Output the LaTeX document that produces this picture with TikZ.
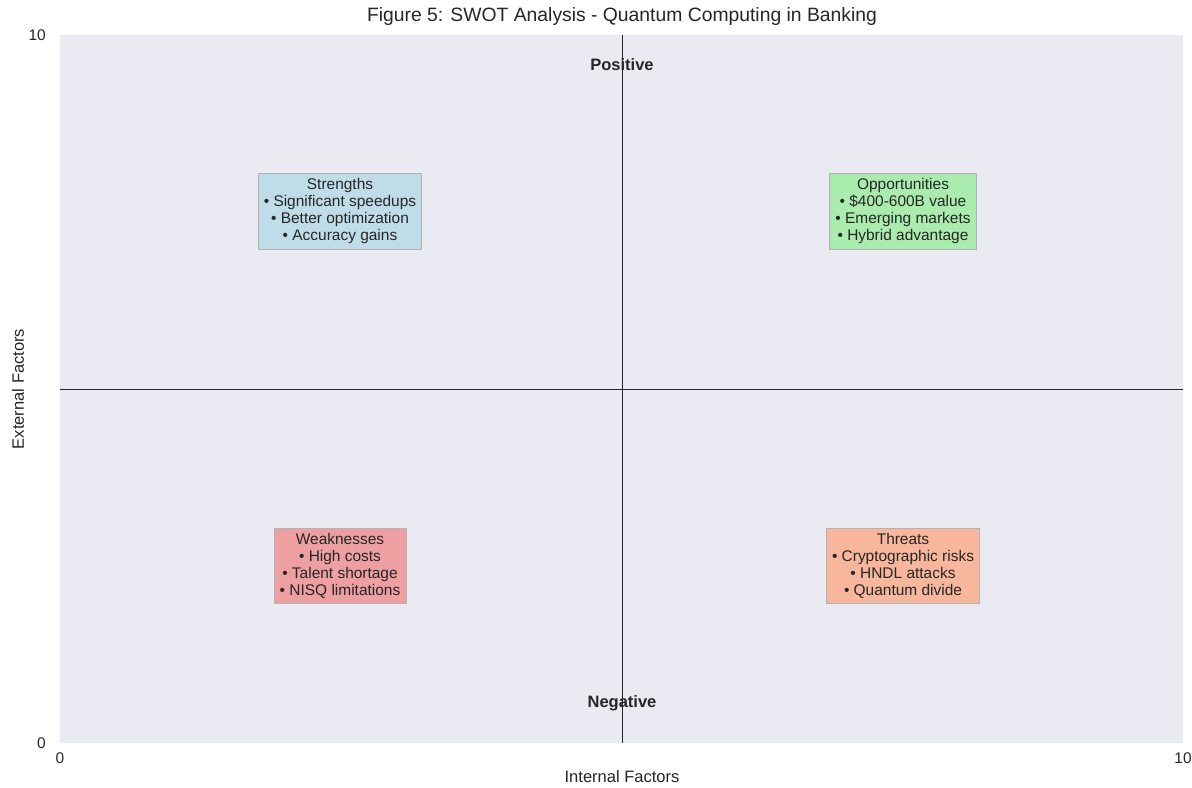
\documentclass[tikz,border=0pt]{standalone}
\usepackage{fontspec}
\setmainfont{Liberation Sans}
\usepackage{tikz}
\usetikzlibrary{positioning}

\definecolor{plotbg}{HTML}{EAEAF2}
\definecolor{txt}{HTML}{262626}
\definecolor{sblue}{HTML}{ADD8E6}
\definecolor{sgreen}{HTML}{90EE90}
\definecolor{scoral}{HTML}{F08080}
\definecolor{ssalmon}{HTML}{FFA07A}

\begin{document}
\begin{tikzpicture}[x=0.02cm,y=-0.02cm,
	swot/.style={draw=black!30,line width=0.4pt,fill opacity=0.7,text opacity=1,
		text=txt,align=center,inner xsep=3.2pt,inner ysep=3pt,
		font=\fontsize{8.8}{9.64}\selectfont},
	axisline/.style={black!85,line width=0.5pt},
	sidelabel/.style={text=txt,font=\fontsize{9.4}{11}\selectfont\bfseries},
	ticklabel/.style={text=txt,font=\fontsize{8.8}{10}\selectfont}]
	\useasboundingbox (0,0) rectangle (1192,787);
	\fill[plotbg] (60,35) rectangle (1183,743);
	% axes through the middle
	\coordinate (top) at (622,35);
	\coordinate (bottom) at (622,743);
	\coordinate (left) at (60,389);
	\coordinate (right) at (1183,389);
	\draw[axisline] (top) -- (bottom);
	\draw[axisline] (left) -- (right);
	% quadrants
	\node[swot,fill=sblue] (strengths) at (340,211)
		{Strengths\\• Significant speedups\\• Better optimization\\• Accuracy gains};
	\node[swot,fill=sgreen] (opportunities) at (903,211)
		{Opportunities\\• \$400-600B value\\• Emerging markets\\• Hybrid advantage};
	\node[swot,fill=scoral] (weaknesses) at (340,566)
		{Weaknesses\\• High costs\\• Talent shortage\\• NISQ limitations};
	\node[swot,fill=ssalmon] (threats) at (903,566)
		{Threats\\• Cryptographic risks\\• HNDL attacks\\• Quantum divide};
	\node[sidelabel] (positive) at (622,65) {Positive};
	\node[sidelabel] (negative) at (622,703) {Negative};
	% ticks, labels and title
	\node[ticklabel,anchor=east] (y10) at (52,35) {10};
	\node[ticklabel,anchor=east] (y0) at (52,743) {0};
	\node[ticklabel] (x0) at (60,758) {0};
	\node[ticklabel] (x10) at (1183,758) {10};
	\node[text=txt,font=\fontsize{9.4}{11}\selectfont] (xlabel) at (622,777) {Internal Factors};
	\node[text=txt,font=\fontsize{9.4}{11}\selectfont,rotate=90] (ylabel) at (18,389) {External Factors};
	\node[text=txt,font=\fontsize{11}{13}\selectfont] (title) at (622,17) {Figure 5: SWOT Analysis - Quantum Computing in Banking};
\end{tikzpicture}
\end{document}
